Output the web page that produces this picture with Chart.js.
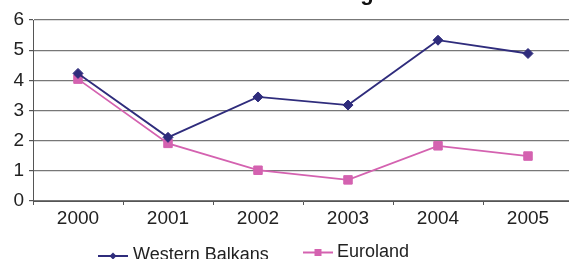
<!DOCTYPE html>
<html>
<head>
<meta charset="utf-8">
<script src="https://cdn.jsdelivr.net/npm/chart.js@4/dist/chart.umd.min.js"></script>
<style>
  html, body { margin: 0; padding: 0; overflow: hidden; background: #fff; width: 569px; height: 259px; }
  #wrap { position: absolute; left: 0; top: -30px; width: 600px; height: 300px; }
  canvas { display: block; }
</style>
</head>
<body>
<div id="wrap"><canvas id="c" width="600" height="300"></canvas></div>
<script>
const chartTitle = "Countries' Averages";
const years = ['2000', '2001', '2002', '2003', '2004', '2005'];
const westernBalkans = [4.23, 2.11, 3.45, 3.18, 5.33, 4.89];
const euroland = [4.04, 1.91, 1.02, 0.70, 1.83, 1.49];
const seriesNames = ['Western Balkans', 'Euroland'];
const yTicks = [0, 1, 2, 3, 4, 5, 6];

const WB_COLOR = '#2f2c7c';
const EU_COLOR = '#d462b0';
const FONT = "'Liberation Sans', Arial, sans-serif";

const decor = {
  id: 'decor',
  afterDraw(chart) {
    const ctx = chart.ctx;
    ctx.save();
    // title (mostly cropped off in the reference)
    ctx.fillStyle = '#111';
    ctx.font = 'bold 22px ' + FONT;
    ctx.textAlign = 'center';
    ctx.textBaseline = 'alphabetic';
    ctx.fillText(chartTitle, 292, 29.5);
    // legend
    ctx.font = '18px ' + FONT;
    ctx.textAlign = 'left';
    const items = [
      { name: seriesNames[0], color: WB_COLOR, x0: 98, x1: 128, y: 286, tx: 133, ty: 290, shape: 'diamond' },
      { name: seriesNames[1], color: EU_COLOR, x0: 303, x1: 333, y: 282.5, tx: 337, ty: 287, shape: 'square' }
    ];
    for (const it of items) {
      ctx.strokeStyle = it.color;
      ctx.lineWidth = 2;
      ctx.beginPath();
      ctx.moveTo(it.x0, it.y);
      ctx.lineTo(it.x1, it.y);
      ctx.stroke();
      ctx.fillStyle = it.color;
      const cx = (it.x0 + it.x1) / 2;
      ctx.beginPath();
      if (it.shape === 'diamond') {
        ctx.moveTo(cx, it.y - 3.5); ctx.lineTo(cx + 3.5, it.y); ctx.lineTo(cx, it.y + 3.5); ctx.lineTo(cx - 3.5, it.y);
        ctx.closePath();
      } else {
        ctx.rect(cx - 3.5, it.y - 3.5, 7, 7);
      }
      ctx.fill();
      ctx.fillStyle = '#222';
      ctx.fillText(it.name, it.tx, it.ty);
    }
    ctx.restore();
  }
};

new Chart(document.getElementById('c'), {
  type: 'line',
  data: {
    labels: years,
    datasets: [
      {
        label: seriesNames[0],
        data: westernBalkans,
        borderColor: WB_COLOR,
        backgroundColor: WB_COLOR,
        borderWidth: 1.8,
        pointStyle: 'rectRot',
        pointRadius: 5,
        pointBorderWidth: 1,
        tension: 0
      },
      {
        label: seriesNames[1],
        data: euroland,
        borderColor: EU_COLOR,
        backgroundColor: EU_COLOR,
        borderWidth: 1.8,
        pointStyle: 'rect',
        pointRadius: 6,
        pointBorderWidth: 1,
        tension: 0
      }
    ]
  },
  options: {
    responsive: false,
    animation: false,
    layout: { padding: { top: 50, left: 0, right: 27, bottom: 29 } },
    plugins: {
      legend: { display: false },
      title: { display: false },
      tooltip: { enabled: false }
    },
    scales: {
      x: {
        offset: true,
        afterFit(axis) { axis.height = 40; },
        grid: { offset: true, drawOnChartArea: false, drawTicks: true, tickLength: 4, color: '#555', lineWidth: 1 },
        border: { display: true, color: '#555', width: 1 },
        ticks: { color: '#222', font: { family: FONT, size: 19 }, padding: 2, maxRotation: 0, autoSkip: false }
      },
      y: {
        min: yTicks[0],
        max: yTicks[yTicks.length - 1],
        afterFit(axis) { axis.width = 33; },
        afterBuildTicks(axis) { axis.ticks = yTicks.map(v => ({ value: v })); },
        grid: { color: '#777', lineWidth: 1.2, drawTicks: true, tickLength: 4, tickColor: '#555' },
        border: { display: true, color: '#555', width: 1 },
        ticks: { color: '#222', font: { family: FONT, size: 19 }, padding: 5, stepSize: 1 }
      }
    }
  },
  plugins: [decor]
});
</script>
</body>
</html>
